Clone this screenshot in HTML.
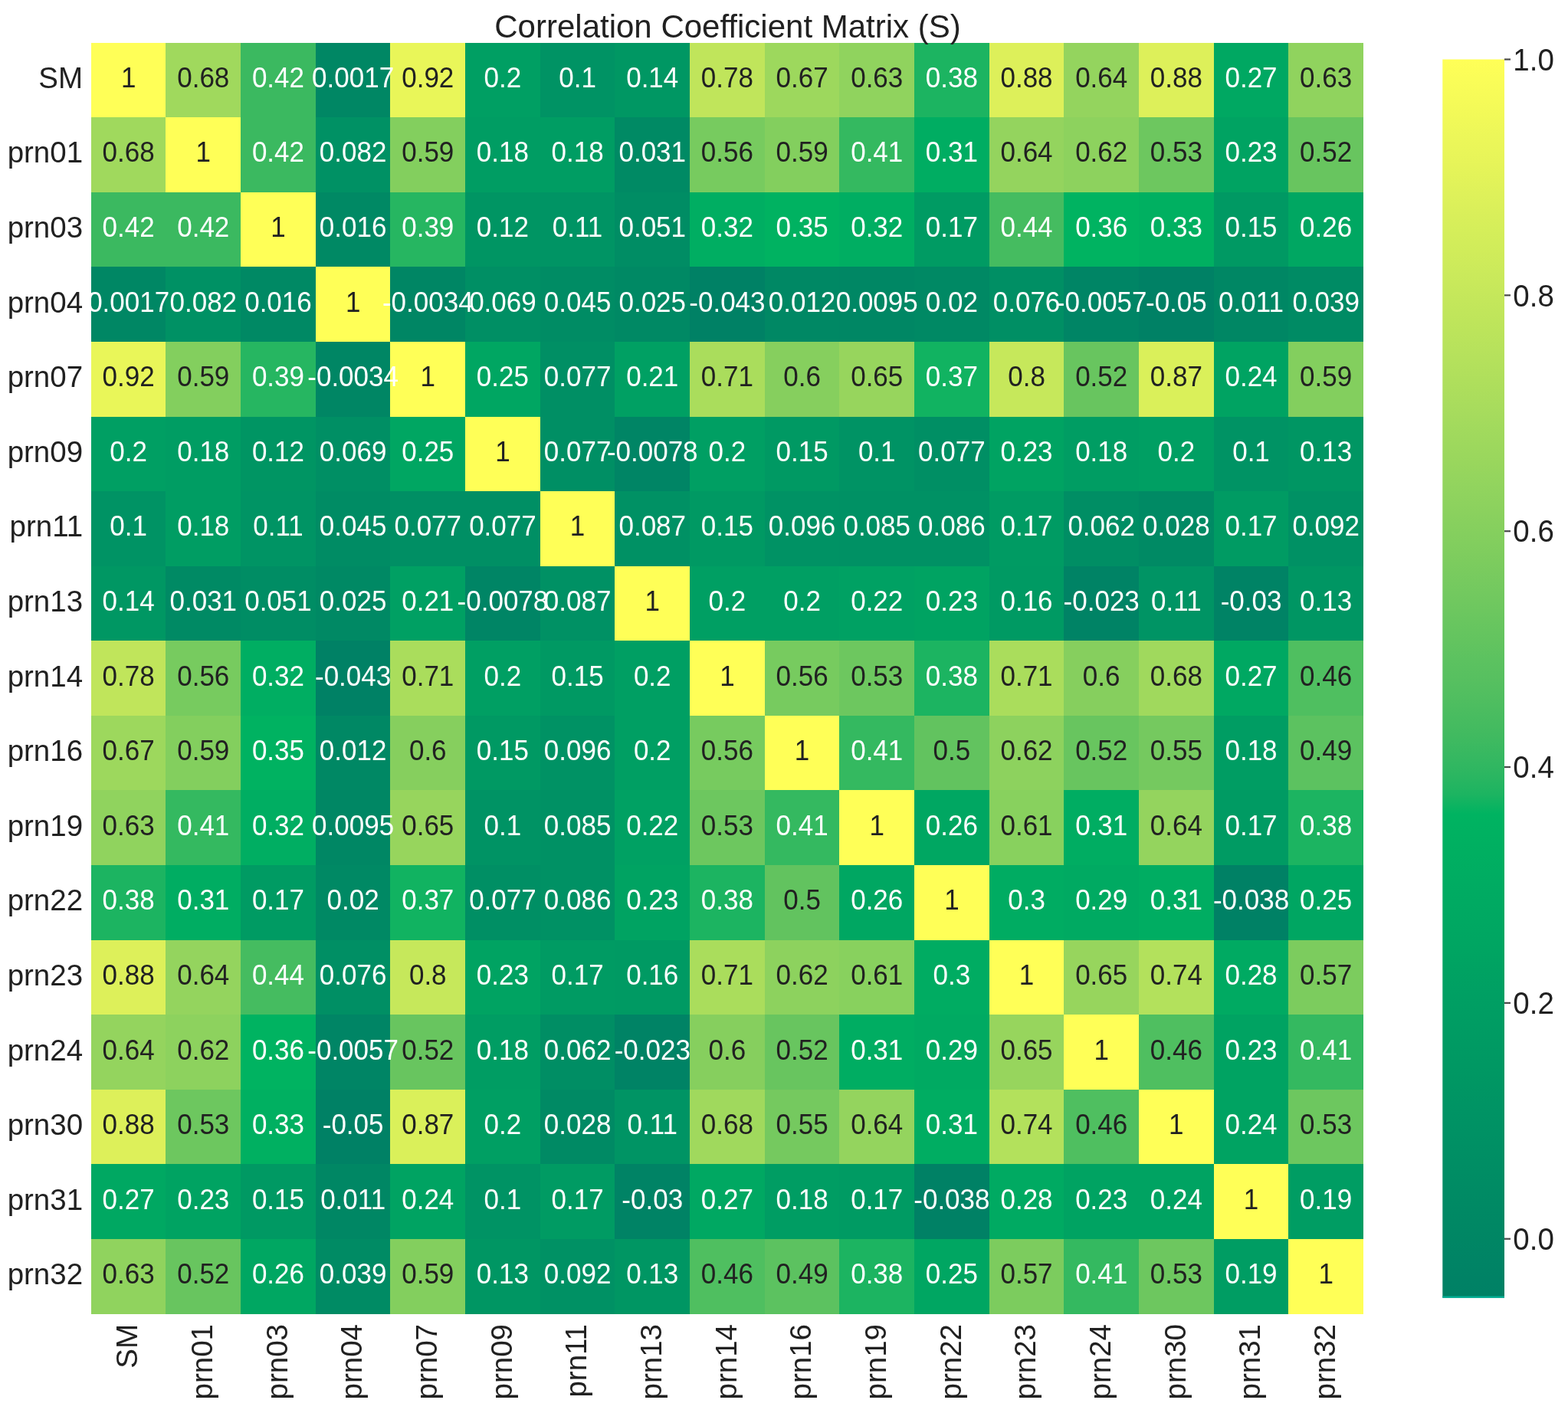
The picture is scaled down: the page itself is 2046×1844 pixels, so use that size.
<!DOCTYPE html>
<html lang="en">
<head>
<meta charset="utf-8">
<title>Correlation Coefficient Matrix (S)</title>
<style>
html,body{margin:0;padding:0;background:#fff;}
body{width:2046px;height:1844px;overflow:hidden;position:relative;}
svg{position:absolute;left:0;top:0;display:block;}
text{font-family:"Liberation Sans",sans-serif;}
.a{font-size:35px;text-anchor:middle;}
.w{fill:#ffffff;}
.d{fill:#212121;}
.t{font-size:38.5px;fill:#212121;}
.yt{text-anchor:end;}
.xt{text-anchor:end;}
.ttl{font-size:42px;fill:#212121;text-anchor:middle;}
.cells rect{shape-rendering:crispEdges;}
</style>
</head>
<body>
<svg width="2046" height="1844" viewBox="0 0 2046 1844">
<defs>
<clipPath id="axclip"><rect x="118.8" y="55.6" width="1660.2" height="1659"/></clipPath>
<linearGradient id="cbg" x1="0" y1="0" x2="0" y2="1"><stop offset="0.0000" stop-color="#ffff57"/><stop offset="0.0156" stop-color="#fafd58"/><stop offset="0.0312" stop-color="#f6fb58"/><stop offset="0.0469" stop-color="#f1f958"/><stop offset="0.0625" stop-color="#ecf759"/><stop offset="0.0781" stop-color="#e8f559"/><stop offset="0.0938" stop-color="#e3f359"/><stop offset="0.1094" stop-color="#def15a"/><stop offset="0.1250" stop-color="#d9ef5a"/><stop offset="0.1406" stop-color="#d4ee5a"/><stop offset="0.1562" stop-color="#d0ec5a"/><stop offset="0.1719" stop-color="#cbea5b"/><stop offset="0.1875" stop-color="#c6e85b"/><stop offset="0.2031" stop-color="#c1e65b"/><stop offset="0.2188" stop-color="#bce45b"/><stop offset="0.2344" stop-color="#b7e25c"/><stop offset="0.2500" stop-color="#b2e05c"/><stop offset="0.2656" stop-color="#adde5c"/><stop offset="0.2812" stop-color="#a8dc5d"/><stop offset="0.2969" stop-color="#a2da5d"/><stop offset="0.3125" stop-color="#9dd85d"/><stop offset="0.3281" stop-color="#98d65d"/><stop offset="0.3438" stop-color="#92d45e"/><stop offset="0.3594" stop-color="#8dd25e"/><stop offset="0.3750" stop-color="#87d05e"/><stop offset="0.3906" stop-color="#82ce5e"/><stop offset="0.4062" stop-color="#7ccc5e"/><stop offset="0.4219" stop-color="#76ca5f"/><stop offset="0.4375" stop-color="#70c85f"/><stop offset="0.4531" stop-color="#69c65f"/><stop offset="0.4688" stop-color="#63c45f"/><stop offset="0.4844" stop-color="#5cc260"/><stop offset="0.5000" stop-color="#57c060"/><stop offset="0.5156" stop-color="#50be60"/><stop offset="0.5312" stop-color="#48bc60"/><stop offset="0.5469" stop-color="#40ba60"/><stop offset="0.5625" stop-color="#36b861"/><stop offset="0.5781" stop-color="#2bb661"/><stop offset="0.5938" stop-color="#1cb461"/><stop offset="0.6094" stop-color="#00b361"/><stop offset="0.6250" stop-color="#00b161"/><stop offset="0.6406" stop-color="#00af61"/><stop offset="0.6562" stop-color="#00ad62"/><stop offset="0.6719" stop-color="#00ab62"/><stop offset="0.6875" stop-color="#00a962"/><stop offset="0.7031" stop-color="#00a762"/><stop offset="0.7188" stop-color="#00a562"/><stop offset="0.7344" stop-color="#00a262"/><stop offset="0.7500" stop-color="#00a063"/><stop offset="0.7656" stop-color="#009e63"/><stop offset="0.7812" stop-color="#009c63"/><stop offset="0.7969" stop-color="#009a63"/><stop offset="0.8125" stop-color="#009863"/><stop offset="0.8281" stop-color="#009663"/><stop offset="0.8438" stop-color="#009464"/><stop offset="0.8594" stop-color="#009264"/><stop offset="0.8750" stop-color="#009064"/><stop offset="0.8906" stop-color="#008e64"/><stop offset="0.9062" stop-color="#008c64"/><stop offset="0.9219" stop-color="#008a64"/><stop offset="0.9375" stop-color="#008864"/><stop offset="0.9531" stop-color="#008664"/><stop offset="0.9688" stop-color="#008465"/><stop offset="0.9844" stop-color="#008265"/><stop offset="1.0000" stop-color="#008165"/></linearGradient>
</defs>
<rect x="0" y="0" width="2046" height="1844" fill="#ffffff"/>
<g>
<g class="cells">
<rect x="118.80" y="55.60" width="97.96" height="97.89" fill="#ffff57"/>
<rect x="216.46" y="55.60" width="97.96" height="97.89" fill="#a0d95d"/>
<rect x="314.12" y="55.60" width="97.96" height="97.89" fill="#3bb960"/>
<rect x="411.78" y="55.60" width="97.96" height="97.89" fill="#008764"/>
<rect x="509.44" y="55.60" width="97.96" height="97.89" fill="#e9f659"/>
<rect x="607.09" y="55.60" width="97.96" height="97.89" fill="#009f63"/>
<rect x="704.75" y="55.60" width="97.96" height="97.89" fill="#009364"/>
<rect x="802.41" y="55.60" width="97.96" height="97.89" fill="#009763"/>
<rect x="900.07" y="55.60" width="97.96" height="97.89" fill="#c0e55b"/>
<rect x="997.73" y="55.60" width="97.96" height="97.89" fill="#9dd85d"/>
<rect x="1095.39" y="55.60" width="97.96" height="97.89" fill="#90d35e"/>
<rect x="1193.05" y="55.60" width="97.96" height="97.89" fill="#1cb461"/>
<rect x="1290.71" y="55.60" width="97.96" height="97.89" fill="#ddf05a"/>
<rect x="1388.36" y="55.60" width="97.96" height="97.89" fill="#94d45e"/>
<rect x="1486.02" y="55.60" width="97.96" height="97.89" fill="#ddf05a"/>
<rect x="1583.68" y="55.60" width="97.96" height="97.89" fill="#00a862"/>
<rect x="1681.34" y="55.60" width="97.66" height="97.89" fill="#90d35e"/>
<rect x="118.80" y="153.19" width="97.96" height="97.89" fill="#a0d95d"/>
<rect x="216.46" y="153.19" width="97.96" height="97.89" fill="#ffff57"/>
<rect x="314.12" y="153.19" width="97.96" height="97.89" fill="#3bb960"/>
<rect x="411.78" y="153.19" width="97.96" height="97.89" fill="#009164"/>
<rect x="509.44" y="153.19" width="97.96" height="97.89" fill="#83cf5e"/>
<rect x="607.09" y="153.19" width="97.96" height="97.89" fill="#009d63"/>
<rect x="704.75" y="153.19" width="97.96" height="97.89" fill="#009d63"/>
<rect x="802.41" y="153.19" width="97.96" height="97.89" fill="#008a64"/>
<rect x="900.07" y="153.19" width="97.96" height="97.89" fill="#77cb5f"/>
<rect x="997.73" y="153.19" width="97.96" height="97.89" fill="#83cf5e"/>
<rect x="1095.39" y="153.19" width="97.96" height="97.89" fill="#34b960"/>
<rect x="1193.05" y="153.19" width="97.96" height="97.89" fill="#00ad62"/>
<rect x="1290.71" y="153.19" width="97.96" height="97.89" fill="#94d45e"/>
<rect x="1388.36" y="153.19" width="97.96" height="97.89" fill="#8dd25e"/>
<rect x="1486.02" y="153.19" width="97.96" height="97.89" fill="#6dc75f"/>
<rect x="1583.68" y="153.19" width="97.96" height="97.89" fill="#00a362"/>
<rect x="1681.34" y="153.19" width="97.66" height="97.89" fill="#68c55f"/>
<rect x="118.80" y="250.78" width="97.96" height="97.89" fill="#3bb960"/>
<rect x="216.46" y="250.78" width="97.96" height="97.89" fill="#3bb960"/>
<rect x="314.12" y="250.78" width="97.96" height="97.89" fill="#ffff57"/>
<rect x="411.78" y="250.78" width="97.96" height="97.89" fill="#008964"/>
<rect x="509.44" y="250.78" width="97.96" height="97.89" fill="#26b661"/>
<rect x="607.09" y="250.78" width="97.96" height="97.89" fill="#009563"/>
<rect x="704.75" y="250.78" width="97.96" height="97.89" fill="#009464"/>
<rect x="802.41" y="250.78" width="97.96" height="97.89" fill="#008d64"/>
<rect x="900.07" y="250.78" width="97.96" height="97.89" fill="#00ae62"/>
<rect x="997.73" y="250.78" width="97.96" height="97.89" fill="#00b261"/>
<rect x="1095.39" y="250.78" width="97.96" height="97.89" fill="#00ae62"/>
<rect x="1193.05" y="250.78" width="97.96" height="97.89" fill="#009b63"/>
<rect x="1290.71" y="250.78" width="97.96" height="97.89" fill="#45bc60"/>
<rect x="1388.36" y="250.78" width="97.96" height="97.89" fill="#00b361"/>
<rect x="1486.02" y="250.78" width="97.96" height="97.89" fill="#00b061"/>
<rect x="1583.68" y="250.78" width="97.96" height="97.89" fill="#009963"/>
<rect x="1681.34" y="250.78" width="97.66" height="97.89" fill="#00a762"/>
<rect x="118.80" y="348.36" width="97.96" height="97.89" fill="#008764"/>
<rect x="216.46" y="348.36" width="97.96" height="97.89" fill="#009164"/>
<rect x="314.12" y="348.36" width="97.96" height="97.89" fill="#008964"/>
<rect x="411.78" y="348.36" width="97.96" height="97.89" fill="#ffff57"/>
<rect x="509.44" y="348.36" width="97.96" height="97.89" fill="#008664"/>
<rect x="607.09" y="348.36" width="97.96" height="97.89" fill="#008f64"/>
<rect x="704.75" y="348.36" width="97.96" height="97.89" fill="#008c64"/>
<rect x="802.41" y="348.36" width="97.96" height="97.89" fill="#008964"/>
<rect x="900.07" y="348.36" width="97.96" height="97.89" fill="#008165"/>
<rect x="997.73" y="348.36" width="97.96" height="97.89" fill="#008864"/>
<rect x="1095.39" y="348.36" width="97.96" height="97.89" fill="#008764"/>
<rect x="1193.05" y="348.36" width="97.96" height="97.89" fill="#008964"/>
<rect x="1290.71" y="348.36" width="97.96" height="97.89" fill="#008f64"/>
<rect x="1388.36" y="348.36" width="97.96" height="97.89" fill="#008565"/>
<rect x="1486.02" y="348.36" width="97.96" height="97.89" fill="#008165"/>
<rect x="1583.68" y="348.36" width="97.96" height="97.89" fill="#008764"/>
<rect x="1681.34" y="348.36" width="97.66" height="97.89" fill="#008b64"/>
<rect x="118.80" y="445.95" width="97.96" height="97.89" fill="#e9f659"/>
<rect x="216.46" y="445.95" width="97.96" height="97.89" fill="#83cf5e"/>
<rect x="314.12" y="445.95" width="97.96" height="97.89" fill="#26b661"/>
<rect x="411.78" y="445.95" width="97.96" height="97.89" fill="#008664"/>
<rect x="509.44" y="445.95" width="97.96" height="97.89" fill="#ffff57"/>
<rect x="607.09" y="445.95" width="97.96" height="97.89" fill="#00a662"/>
<rect x="704.75" y="445.95" width="97.96" height="97.89" fill="#008f64"/>
<rect x="802.41" y="445.95" width="97.96" height="97.89" fill="#00a063"/>
<rect x="900.07" y="445.95" width="97.96" height="97.89" fill="#aadd5c"/>
<rect x="997.73" y="445.95" width="97.96" height="97.89" fill="#86cf5e"/>
<rect x="1095.39" y="445.95" width="97.96" height="97.89" fill="#97d55d"/>
<rect x="1193.05" y="445.95" width="97.96" height="97.89" fill="#11b361"/>
<rect x="1290.71" y="445.95" width="97.96" height="97.89" fill="#c6e85b"/>
<rect x="1388.36" y="445.95" width="97.96" height="97.89" fill="#68c55f"/>
<rect x="1486.02" y="445.95" width="97.96" height="97.89" fill="#daf05a"/>
<rect x="1583.68" y="445.95" width="97.96" height="97.89" fill="#00a362"/>
<rect x="1681.34" y="445.95" width="97.66" height="97.89" fill="#83cf5e"/>
<rect x="118.80" y="543.54" width="97.96" height="97.89" fill="#009f63"/>
<rect x="216.46" y="543.54" width="97.96" height="97.89" fill="#009d63"/>
<rect x="314.12" y="543.54" width="97.96" height="97.89" fill="#009563"/>
<rect x="411.78" y="543.54" width="97.96" height="97.89" fill="#008f64"/>
<rect x="509.44" y="543.54" width="97.96" height="97.89" fill="#00a662"/>
<rect x="607.09" y="543.54" width="97.96" height="97.89" fill="#ffff57"/>
<rect x="704.75" y="543.54" width="97.96" height="97.89" fill="#008f64"/>
<rect x="802.41" y="543.54" width="97.96" height="97.89" fill="#008565"/>
<rect x="900.07" y="543.54" width="97.96" height="97.89" fill="#009f63"/>
<rect x="997.73" y="543.54" width="97.96" height="97.89" fill="#009963"/>
<rect x="1095.39" y="543.54" width="97.96" height="97.89" fill="#009364"/>
<rect x="1193.05" y="543.54" width="97.96" height="97.89" fill="#008f64"/>
<rect x="1290.71" y="543.54" width="97.96" height="97.89" fill="#00a362"/>
<rect x="1388.36" y="543.54" width="97.96" height="97.89" fill="#009d63"/>
<rect x="1486.02" y="543.54" width="97.96" height="97.89" fill="#009f63"/>
<rect x="1583.68" y="543.54" width="97.96" height="97.89" fill="#009364"/>
<rect x="1681.34" y="543.54" width="97.66" height="97.89" fill="#009663"/>
<rect x="118.80" y="641.13" width="97.96" height="97.89" fill="#009364"/>
<rect x="216.46" y="641.13" width="97.96" height="97.89" fill="#009d63"/>
<rect x="314.12" y="641.13" width="97.96" height="97.89" fill="#009464"/>
<rect x="411.78" y="641.13" width="97.96" height="97.89" fill="#008c64"/>
<rect x="509.44" y="641.13" width="97.96" height="97.89" fill="#008f64"/>
<rect x="607.09" y="641.13" width="97.96" height="97.89" fill="#008f64"/>
<rect x="704.75" y="641.13" width="97.96" height="97.89" fill="#ffff57"/>
<rect x="802.41" y="641.13" width="97.96" height="97.89" fill="#009164"/>
<rect x="900.07" y="641.13" width="97.96" height="97.89" fill="#009963"/>
<rect x="997.73" y="641.13" width="97.96" height="97.89" fill="#009264"/>
<rect x="1095.39" y="641.13" width="97.96" height="97.89" fill="#009164"/>
<rect x="1193.05" y="641.13" width="97.96" height="97.89" fill="#009164"/>
<rect x="1290.71" y="641.13" width="97.96" height="97.89" fill="#009b63"/>
<rect x="1388.36" y="641.13" width="97.96" height="97.89" fill="#008e64"/>
<rect x="1486.02" y="641.13" width="97.96" height="97.89" fill="#008a64"/>
<rect x="1583.68" y="641.13" width="97.96" height="97.89" fill="#009b63"/>
<rect x="1681.34" y="641.13" width="97.66" height="97.89" fill="#009164"/>
<rect x="118.80" y="738.72" width="97.96" height="97.89" fill="#009763"/>
<rect x="216.46" y="738.72" width="97.96" height="97.89" fill="#008a64"/>
<rect x="314.12" y="738.72" width="97.96" height="97.89" fill="#008d64"/>
<rect x="411.78" y="738.72" width="97.96" height="97.89" fill="#008964"/>
<rect x="509.44" y="738.72" width="97.96" height="97.89" fill="#00a063"/>
<rect x="607.09" y="738.72" width="97.96" height="97.89" fill="#008565"/>
<rect x="704.75" y="738.72" width="97.96" height="97.89" fill="#009164"/>
<rect x="802.41" y="738.72" width="97.96" height="97.89" fill="#ffff57"/>
<rect x="900.07" y="738.72" width="97.96" height="97.89" fill="#009f63"/>
<rect x="997.73" y="738.72" width="97.96" height="97.89" fill="#009f63"/>
<rect x="1095.39" y="738.72" width="97.96" height="97.89" fill="#00a163"/>
<rect x="1193.05" y="738.72" width="97.96" height="97.89" fill="#00a362"/>
<rect x="1290.71" y="738.72" width="97.96" height="97.89" fill="#009a63"/>
<rect x="1388.36" y="738.72" width="97.96" height="97.89" fill="#008365"/>
<rect x="1486.02" y="738.72" width="97.96" height="97.89" fill="#009464"/>
<rect x="1583.68" y="738.72" width="97.96" height="97.89" fill="#008365"/>
<rect x="1681.34" y="738.72" width="97.66" height="97.89" fill="#009663"/>
<rect x="118.80" y="836.31" width="97.96" height="97.89" fill="#c0e55b"/>
<rect x="216.46" y="836.31" width="97.96" height="97.89" fill="#77cb5f"/>
<rect x="314.12" y="836.31" width="97.96" height="97.89" fill="#00ae62"/>
<rect x="411.78" y="836.31" width="97.96" height="97.89" fill="#008165"/>
<rect x="509.44" y="836.31" width="97.96" height="97.89" fill="#aadd5c"/>
<rect x="607.09" y="836.31" width="97.96" height="97.89" fill="#009f63"/>
<rect x="704.75" y="836.31" width="97.96" height="97.89" fill="#009963"/>
<rect x="802.41" y="836.31" width="97.96" height="97.89" fill="#009f63"/>
<rect x="900.07" y="836.31" width="97.96" height="97.89" fill="#ffff57"/>
<rect x="997.73" y="836.31" width="97.96" height="97.89" fill="#77cb5f"/>
<rect x="1095.39" y="836.31" width="97.96" height="97.89" fill="#6dc75f"/>
<rect x="1193.05" y="836.31" width="97.96" height="97.89" fill="#1cb461"/>
<rect x="1290.71" y="836.31" width="97.96" height="97.89" fill="#aadd5c"/>
<rect x="1388.36" y="836.31" width="97.96" height="97.89" fill="#86cf5e"/>
<rect x="1486.02" y="836.31" width="97.96" height="97.89" fill="#a0d95d"/>
<rect x="1583.68" y="836.31" width="97.96" height="97.89" fill="#00a862"/>
<rect x="1681.34" y="836.31" width="97.66" height="97.89" fill="#4fbf60"/>
<rect x="118.80" y="933.89" width="97.96" height="97.89" fill="#9dd85d"/>
<rect x="216.46" y="933.89" width="97.96" height="97.89" fill="#83cf5e"/>
<rect x="314.12" y="933.89" width="97.96" height="97.89" fill="#00b261"/>
<rect x="411.78" y="933.89" width="97.96" height="97.89" fill="#008864"/>
<rect x="509.44" y="933.89" width="97.96" height="97.89" fill="#86cf5e"/>
<rect x="607.09" y="933.89" width="97.96" height="97.89" fill="#009963"/>
<rect x="704.75" y="933.89" width="97.96" height="97.89" fill="#009264"/>
<rect x="802.41" y="933.89" width="97.96" height="97.89" fill="#009f63"/>
<rect x="900.07" y="933.89" width="97.96" height="97.89" fill="#77cb5f"/>
<rect x="997.73" y="933.89" width="97.96" height="97.89" fill="#ffff57"/>
<rect x="1095.39" y="933.89" width="97.96" height="97.89" fill="#34b960"/>
<rect x="1193.05" y="933.89" width="97.96" height="97.89" fill="#62c35f"/>
<rect x="1290.71" y="933.89" width="97.96" height="97.89" fill="#8dd25e"/>
<rect x="1388.36" y="933.89" width="97.96" height="97.89" fill="#68c55f"/>
<rect x="1486.02" y="933.89" width="97.96" height="97.89" fill="#75c95f"/>
<rect x="1583.68" y="933.89" width="97.96" height="97.89" fill="#009d63"/>
<rect x="1681.34" y="933.89" width="97.66" height="97.89" fill="#5cc260"/>
<rect x="118.80" y="1031.48" width="97.96" height="97.89" fill="#90d35e"/>
<rect x="216.46" y="1031.48" width="97.96" height="97.89" fill="#34b960"/>
<rect x="314.12" y="1031.48" width="97.96" height="97.89" fill="#00ae62"/>
<rect x="411.78" y="1031.48" width="97.96" height="97.89" fill="#008764"/>
<rect x="509.44" y="1031.48" width="97.96" height="97.89" fill="#97d55d"/>
<rect x="607.09" y="1031.48" width="97.96" height="97.89" fill="#009364"/>
<rect x="704.75" y="1031.48" width="97.96" height="97.89" fill="#009164"/>
<rect x="802.41" y="1031.48" width="97.96" height="97.89" fill="#00a163"/>
<rect x="900.07" y="1031.48" width="97.96" height="97.89" fill="#6dc75f"/>
<rect x="997.73" y="1031.48" width="97.96" height="97.89" fill="#34b960"/>
<rect x="1095.39" y="1031.48" width="97.96" height="97.89" fill="#ffff57"/>
<rect x="1193.05" y="1031.48" width="97.96" height="97.89" fill="#00a762"/>
<rect x="1290.71" y="1031.48" width="97.96" height="97.89" fill="#88d15e"/>
<rect x="1388.36" y="1031.48" width="97.96" height="97.89" fill="#00ad62"/>
<rect x="1486.02" y="1031.48" width="97.96" height="97.89" fill="#94d45e"/>
<rect x="1583.68" y="1031.48" width="97.96" height="97.89" fill="#009b63"/>
<rect x="1681.34" y="1031.48" width="97.66" height="97.89" fill="#1cb461"/>
<rect x="118.80" y="1129.07" width="97.96" height="97.89" fill="#1cb461"/>
<rect x="216.46" y="1129.07" width="97.96" height="97.89" fill="#00ad62"/>
<rect x="314.12" y="1129.07" width="97.96" height="97.89" fill="#009b63"/>
<rect x="411.78" y="1129.07" width="97.96" height="97.89" fill="#008964"/>
<rect x="509.44" y="1129.07" width="97.96" height="97.89" fill="#11b361"/>
<rect x="607.09" y="1129.07" width="97.96" height="97.89" fill="#008f64"/>
<rect x="704.75" y="1129.07" width="97.96" height="97.89" fill="#009164"/>
<rect x="802.41" y="1129.07" width="97.96" height="97.89" fill="#00a362"/>
<rect x="900.07" y="1129.07" width="97.96" height="97.89" fill="#1cb461"/>
<rect x="997.73" y="1129.07" width="97.96" height="97.89" fill="#62c35f"/>
<rect x="1095.39" y="1129.07" width="97.96" height="97.89" fill="#00a762"/>
<rect x="1193.05" y="1129.07" width="97.96" height="97.89" fill="#ffff57"/>
<rect x="1290.71" y="1129.07" width="97.96" height="97.89" fill="#00ac62"/>
<rect x="1388.36" y="1129.07" width="97.96" height="97.89" fill="#00aa62"/>
<rect x="1486.02" y="1129.07" width="97.96" height="97.89" fill="#00ad62"/>
<rect x="1583.68" y="1129.07" width="97.96" height="97.89" fill="#008165"/>
<rect x="1681.34" y="1129.07" width="97.66" height="97.89" fill="#00a662"/>
<rect x="118.80" y="1226.66" width="97.96" height="97.89" fill="#ddf05a"/>
<rect x="216.46" y="1226.66" width="97.96" height="97.89" fill="#94d45e"/>
<rect x="314.12" y="1226.66" width="97.96" height="97.89" fill="#45bc60"/>
<rect x="411.78" y="1226.66" width="97.96" height="97.89" fill="#008f64"/>
<rect x="509.44" y="1226.66" width="97.96" height="97.89" fill="#c6e85b"/>
<rect x="607.09" y="1226.66" width="97.96" height="97.89" fill="#00a362"/>
<rect x="704.75" y="1226.66" width="97.96" height="97.89" fill="#009b63"/>
<rect x="802.41" y="1226.66" width="97.96" height="97.89" fill="#009a63"/>
<rect x="900.07" y="1226.66" width="97.96" height="97.89" fill="#aadd5c"/>
<rect x="997.73" y="1226.66" width="97.96" height="97.89" fill="#8dd25e"/>
<rect x="1095.39" y="1226.66" width="97.96" height="97.89" fill="#88d15e"/>
<rect x="1193.05" y="1226.66" width="97.96" height="97.89" fill="#00ac62"/>
<rect x="1290.71" y="1226.66" width="97.96" height="97.89" fill="#ffff57"/>
<rect x="1388.36" y="1226.66" width="97.96" height="97.89" fill="#97d55d"/>
<rect x="1486.02" y="1226.66" width="97.96" height="97.89" fill="#b3e15c"/>
<rect x="1583.68" y="1226.66" width="97.96" height="97.89" fill="#00aa62"/>
<rect x="1681.34" y="1226.66" width="97.66" height="97.89" fill="#7ccc5e"/>
<rect x="118.80" y="1324.25" width="97.96" height="97.89" fill="#94d45e"/>
<rect x="216.46" y="1324.25" width="97.96" height="97.89" fill="#8dd25e"/>
<rect x="314.12" y="1324.25" width="97.96" height="97.89" fill="#00b361"/>
<rect x="411.78" y="1324.25" width="97.96" height="97.89" fill="#008565"/>
<rect x="509.44" y="1324.25" width="97.96" height="97.89" fill="#68c55f"/>
<rect x="607.09" y="1324.25" width="97.96" height="97.89" fill="#009d63"/>
<rect x="704.75" y="1324.25" width="97.96" height="97.89" fill="#008e64"/>
<rect x="802.41" y="1324.25" width="97.96" height="97.89" fill="#008365"/>
<rect x="900.07" y="1324.25" width="97.96" height="97.89" fill="#86cf5e"/>
<rect x="997.73" y="1324.25" width="97.96" height="97.89" fill="#68c55f"/>
<rect x="1095.39" y="1324.25" width="97.96" height="97.89" fill="#00ad62"/>
<rect x="1193.05" y="1324.25" width="97.96" height="97.89" fill="#00aa62"/>
<rect x="1290.71" y="1324.25" width="97.96" height="97.89" fill="#97d55d"/>
<rect x="1388.36" y="1324.25" width="97.96" height="97.89" fill="#ffff57"/>
<rect x="1486.02" y="1324.25" width="97.96" height="97.89" fill="#4fbf60"/>
<rect x="1583.68" y="1324.25" width="97.96" height="97.89" fill="#00a362"/>
<rect x="1681.34" y="1324.25" width="97.66" height="97.89" fill="#34b960"/>
<rect x="118.80" y="1421.84" width="97.96" height="97.89" fill="#ddf05a"/>
<rect x="216.46" y="1421.84" width="97.96" height="97.89" fill="#6dc75f"/>
<rect x="314.12" y="1421.84" width="97.96" height="97.89" fill="#00b061"/>
<rect x="411.78" y="1421.84" width="97.96" height="97.89" fill="#008165"/>
<rect x="509.44" y="1421.84" width="97.96" height="97.89" fill="#daf05a"/>
<rect x="607.09" y="1421.84" width="97.96" height="97.89" fill="#009f63"/>
<rect x="704.75" y="1421.84" width="97.96" height="97.89" fill="#008a64"/>
<rect x="802.41" y="1421.84" width="97.96" height="97.89" fill="#009464"/>
<rect x="900.07" y="1421.84" width="97.96" height="97.89" fill="#a0d95d"/>
<rect x="997.73" y="1421.84" width="97.96" height="97.89" fill="#75c95f"/>
<rect x="1095.39" y="1421.84" width="97.96" height="97.89" fill="#94d45e"/>
<rect x="1193.05" y="1421.84" width="97.96" height="97.89" fill="#00ad62"/>
<rect x="1290.71" y="1421.84" width="97.96" height="97.89" fill="#b3e15c"/>
<rect x="1388.36" y="1421.84" width="97.96" height="97.89" fill="#4fbf60"/>
<rect x="1486.02" y="1421.84" width="97.96" height="97.89" fill="#ffff57"/>
<rect x="1583.68" y="1421.84" width="97.96" height="97.89" fill="#00a362"/>
<rect x="1681.34" y="1421.84" width="97.66" height="97.89" fill="#6dc75f"/>
<rect x="118.80" y="1519.42" width="97.96" height="97.89" fill="#00a862"/>
<rect x="216.46" y="1519.42" width="97.96" height="97.89" fill="#00a362"/>
<rect x="314.12" y="1519.42" width="97.96" height="97.89" fill="#009963"/>
<rect x="411.78" y="1519.42" width="97.96" height="97.89" fill="#008764"/>
<rect x="509.44" y="1519.42" width="97.96" height="97.89" fill="#00a362"/>
<rect x="607.09" y="1519.42" width="97.96" height="97.89" fill="#009364"/>
<rect x="704.75" y="1519.42" width="97.96" height="97.89" fill="#009b63"/>
<rect x="802.41" y="1519.42" width="97.96" height="97.89" fill="#008365"/>
<rect x="900.07" y="1519.42" width="97.96" height="97.89" fill="#00a862"/>
<rect x="997.73" y="1519.42" width="97.96" height="97.89" fill="#009d63"/>
<rect x="1095.39" y="1519.42" width="97.96" height="97.89" fill="#009b63"/>
<rect x="1193.05" y="1519.42" width="97.96" height="97.89" fill="#008165"/>
<rect x="1290.71" y="1519.42" width="97.96" height="97.89" fill="#00aa62"/>
<rect x="1388.36" y="1519.42" width="97.96" height="97.89" fill="#00a362"/>
<rect x="1486.02" y="1519.42" width="97.96" height="97.89" fill="#00a362"/>
<rect x="1583.68" y="1519.42" width="97.96" height="97.89" fill="#ffff57"/>
<rect x="1681.34" y="1519.42" width="97.66" height="97.89" fill="#009d63"/>
<rect x="118.80" y="1617.01" width="97.96" height="97.59" fill="#90d35e"/>
<rect x="216.46" y="1617.01" width="97.96" height="97.59" fill="#68c55f"/>
<rect x="314.12" y="1617.01" width="97.96" height="97.59" fill="#00a762"/>
<rect x="411.78" y="1617.01" width="97.96" height="97.59" fill="#008b64"/>
<rect x="509.44" y="1617.01" width="97.96" height="97.59" fill="#83cf5e"/>
<rect x="607.09" y="1617.01" width="97.96" height="97.59" fill="#009663"/>
<rect x="704.75" y="1617.01" width="97.96" height="97.59" fill="#009164"/>
<rect x="802.41" y="1617.01" width="97.96" height="97.59" fill="#009663"/>
<rect x="900.07" y="1617.01" width="97.96" height="97.59" fill="#4fbf60"/>
<rect x="997.73" y="1617.01" width="97.96" height="97.59" fill="#5cc260"/>
<rect x="1095.39" y="1617.01" width="97.96" height="97.59" fill="#1cb461"/>
<rect x="1193.05" y="1617.01" width="97.96" height="97.59" fill="#00a662"/>
<rect x="1290.71" y="1617.01" width="97.96" height="97.59" fill="#7ccc5e"/>
<rect x="1388.36" y="1617.01" width="97.96" height="97.59" fill="#34b960"/>
<rect x="1486.02" y="1617.01" width="97.96" height="97.59" fill="#6dc75f"/>
<rect x="1583.68" y="1617.01" width="97.96" height="97.59" fill="#009d63"/>
<rect x="1681.34" y="1617.01" width="97.66" height="97.59" fill="#ffff57"/>
</g>
<g clip-path="url(#axclip)">
<text class="a d" transform="translate(167.63,113.89) scale(1,1.04)">1</text>
<text class="a d" transform="translate(265.29,113.89) scale(1,1.04)">0.68</text>
<text class="a w" transform="translate(362.95,113.89) scale(1,1.04)">0.42</text>
<text class="a w" transform="translate(460.61,113.89) scale(1,1.04)">0.0017</text>
<text class="a d" transform="translate(558.26,113.89) scale(1,1.04)">0.92</text>
<text class="a w" transform="translate(655.92,113.89) scale(1,1.04)">0.2</text>
<text class="a w" transform="translate(753.58,113.89) scale(1,1.04)">0.1</text>
<text class="a w" transform="translate(851.24,113.89) scale(1,1.04)">0.14</text>
<text class="a d" transform="translate(948.90,113.89) scale(1,1.04)">0.78</text>
<text class="a d" transform="translate(1046.56,113.89) scale(1,1.04)">0.67</text>
<text class="a d" transform="translate(1144.22,113.89) scale(1,1.04)">0.63</text>
<text class="a w" transform="translate(1241.88,113.89) scale(1,1.04)">0.38</text>
<text class="a d" transform="translate(1339.54,113.89) scale(1,1.04)">0.88</text>
<text class="a d" transform="translate(1437.19,113.89) scale(1,1.04)">0.64</text>
<text class="a d" transform="translate(1534.85,113.89) scale(1,1.04)">0.88</text>
<text class="a w" transform="translate(1632.51,113.89) scale(1,1.04)">0.27</text>
<text class="a d" transform="translate(1730.17,113.89) scale(1,1.04)">0.63</text>
<text class="a d" transform="translate(167.63,211.48) scale(1,1.04)">0.68</text>
<text class="a d" transform="translate(265.29,211.48) scale(1,1.04)">1</text>
<text class="a w" transform="translate(362.95,211.48) scale(1,1.04)">0.42</text>
<text class="a w" transform="translate(460.61,211.48) scale(1,1.04)">0.082</text>
<text class="a d" transform="translate(558.26,211.48) scale(1,1.04)">0.59</text>
<text class="a w" transform="translate(655.92,211.48) scale(1,1.04)">0.18</text>
<text class="a w" transform="translate(753.58,211.48) scale(1,1.04)">0.18</text>
<text class="a w" transform="translate(851.24,211.48) scale(1,1.04)">0.031</text>
<text class="a d" transform="translate(948.90,211.48) scale(1,1.04)">0.56</text>
<text class="a d" transform="translate(1046.56,211.48) scale(1,1.04)">0.59</text>
<text class="a w" transform="translate(1144.22,211.48) scale(1,1.04)">0.41</text>
<text class="a w" transform="translate(1241.88,211.48) scale(1,1.04)">0.31</text>
<text class="a d" transform="translate(1339.54,211.48) scale(1,1.04)">0.64</text>
<text class="a d" transform="translate(1437.19,211.48) scale(1,1.04)">0.62</text>
<text class="a d" transform="translate(1534.85,211.48) scale(1,1.04)">0.53</text>
<text class="a w" transform="translate(1632.51,211.48) scale(1,1.04)">0.23</text>
<text class="a d" transform="translate(1730.17,211.48) scale(1,1.04)">0.52</text>
<text class="a w" transform="translate(167.63,309.07) scale(1,1.04)">0.42</text>
<text class="a w" transform="translate(265.29,309.07) scale(1,1.04)">0.42</text>
<text class="a d" transform="translate(362.95,309.07) scale(1,1.04)">1</text>
<text class="a w" transform="translate(460.61,309.07) scale(1,1.04)">0.016</text>
<text class="a w" transform="translate(558.26,309.07) scale(1,1.04)">0.39</text>
<text class="a w" transform="translate(655.92,309.07) scale(1,1.04)">0.12</text>
<text class="a w" transform="translate(753.58,309.07) scale(1,1.04)">0.11</text>
<text class="a w" transform="translate(851.24,309.07) scale(1,1.04)">0.051</text>
<text class="a w" transform="translate(948.90,309.07) scale(1,1.04)">0.32</text>
<text class="a w" transform="translate(1046.56,309.07) scale(1,1.04)">0.35</text>
<text class="a w" transform="translate(1144.22,309.07) scale(1,1.04)">0.32</text>
<text class="a w" transform="translate(1241.88,309.07) scale(1,1.04)">0.17</text>
<text class="a w" transform="translate(1339.54,309.07) scale(1,1.04)">0.44</text>
<text class="a w" transform="translate(1437.19,309.07) scale(1,1.04)">0.36</text>
<text class="a w" transform="translate(1534.85,309.07) scale(1,1.04)">0.33</text>
<text class="a w" transform="translate(1632.51,309.07) scale(1,1.04)">0.15</text>
<text class="a w" transform="translate(1730.17,309.07) scale(1,1.04)">0.26</text>
<text class="a w" transform="translate(167.63,406.66) scale(1,1.04)">0.0017</text>
<text class="a w" transform="translate(265.29,406.66) scale(1,1.04)">0.082</text>
<text class="a w" transform="translate(362.95,406.66) scale(1,1.04)">0.016</text>
<text class="a d" transform="translate(460.61,406.66) scale(1,1.04)">1</text>
<text class="a w" transform="translate(558.26,406.66) scale(1,1.04)">-0.0034</text>
<text class="a w" transform="translate(655.92,406.66) scale(1,1.04)">0.069</text>
<text class="a w" transform="translate(753.58,406.66) scale(1,1.04)">0.045</text>
<text class="a w" transform="translate(851.24,406.66) scale(1,1.04)">0.025</text>
<text class="a w" transform="translate(948.90,406.66) scale(1,1.04)">-0.043</text>
<text class="a w" transform="translate(1046.56,406.66) scale(1,1.04)">0.012</text>
<text class="a w" transform="translate(1144.22,406.66) scale(1,1.04)">0.0095</text>
<text class="a w" transform="translate(1241.88,406.66) scale(1,1.04)">0.02</text>
<text class="a w" transform="translate(1339.54,406.66) scale(1,1.04)">0.076</text>
<text class="a w" transform="translate(1437.19,406.66) scale(1,1.04)">-0.0057</text>
<text class="a w" transform="translate(1534.85,406.66) scale(1,1.04)">-0.05</text>
<text class="a w" transform="translate(1632.51,406.66) scale(1,1.04)">0.011</text>
<text class="a w" transform="translate(1730.17,406.66) scale(1,1.04)">0.039</text>
<text class="a d" transform="translate(167.63,504.25) scale(1,1.04)">0.92</text>
<text class="a d" transform="translate(265.29,504.25) scale(1,1.04)">0.59</text>
<text class="a w" transform="translate(362.95,504.25) scale(1,1.04)">0.39</text>
<text class="a w" transform="translate(460.61,504.25) scale(1,1.04)">-0.0034</text>
<text class="a d" transform="translate(558.26,504.25) scale(1,1.04)">1</text>
<text class="a w" transform="translate(655.92,504.25) scale(1,1.04)">0.25</text>
<text class="a w" transform="translate(753.58,504.25) scale(1,1.04)">0.077</text>
<text class="a w" transform="translate(851.24,504.25) scale(1,1.04)">0.21</text>
<text class="a d" transform="translate(948.90,504.25) scale(1,1.04)">0.71</text>
<text class="a d" transform="translate(1046.56,504.25) scale(1,1.04)">0.6</text>
<text class="a d" transform="translate(1144.22,504.25) scale(1,1.04)">0.65</text>
<text class="a w" transform="translate(1241.88,504.25) scale(1,1.04)">0.37</text>
<text class="a d" transform="translate(1339.54,504.25) scale(1,1.04)">0.8</text>
<text class="a d" transform="translate(1437.19,504.25) scale(1,1.04)">0.52</text>
<text class="a d" transform="translate(1534.85,504.25) scale(1,1.04)">0.87</text>
<text class="a w" transform="translate(1632.51,504.25) scale(1,1.04)">0.24</text>
<text class="a d" transform="translate(1730.17,504.25) scale(1,1.04)">0.59</text>
<text class="a w" transform="translate(167.63,601.84) scale(1,1.04)">0.2</text>
<text class="a w" transform="translate(265.29,601.84) scale(1,1.04)">0.18</text>
<text class="a w" transform="translate(362.95,601.84) scale(1,1.04)">0.12</text>
<text class="a w" transform="translate(460.61,601.84) scale(1,1.04)">0.069</text>
<text class="a w" transform="translate(558.26,601.84) scale(1,1.04)">0.25</text>
<text class="a d" transform="translate(655.92,601.84) scale(1,1.04)">1</text>
<text class="a w" transform="translate(753.58,601.84) scale(1,1.04)">0.077</text>
<text class="a w" transform="translate(851.24,601.84) scale(1,1.04)">-0.0078</text>
<text class="a w" transform="translate(948.90,601.84) scale(1,1.04)">0.2</text>
<text class="a w" transform="translate(1046.56,601.84) scale(1,1.04)">0.15</text>
<text class="a w" transform="translate(1144.22,601.84) scale(1,1.04)">0.1</text>
<text class="a w" transform="translate(1241.88,601.84) scale(1,1.04)">0.077</text>
<text class="a w" transform="translate(1339.54,601.84) scale(1,1.04)">0.23</text>
<text class="a w" transform="translate(1437.19,601.84) scale(1,1.04)">0.18</text>
<text class="a w" transform="translate(1534.85,601.84) scale(1,1.04)">0.2</text>
<text class="a w" transform="translate(1632.51,601.84) scale(1,1.04)">0.1</text>
<text class="a w" transform="translate(1730.17,601.84) scale(1,1.04)">0.13</text>
<text class="a w" transform="translate(167.63,699.42) scale(1,1.04)">0.1</text>
<text class="a w" transform="translate(265.29,699.42) scale(1,1.04)">0.18</text>
<text class="a w" transform="translate(362.95,699.42) scale(1,1.04)">0.11</text>
<text class="a w" transform="translate(460.61,699.42) scale(1,1.04)">0.045</text>
<text class="a w" transform="translate(558.26,699.42) scale(1,1.04)">0.077</text>
<text class="a w" transform="translate(655.92,699.42) scale(1,1.04)">0.077</text>
<text class="a d" transform="translate(753.58,699.42) scale(1,1.04)">1</text>
<text class="a w" transform="translate(851.24,699.42) scale(1,1.04)">0.087</text>
<text class="a w" transform="translate(948.90,699.42) scale(1,1.04)">0.15</text>
<text class="a w" transform="translate(1046.56,699.42) scale(1,1.04)">0.096</text>
<text class="a w" transform="translate(1144.22,699.42) scale(1,1.04)">0.085</text>
<text class="a w" transform="translate(1241.88,699.42) scale(1,1.04)">0.086</text>
<text class="a w" transform="translate(1339.54,699.42) scale(1,1.04)">0.17</text>
<text class="a w" transform="translate(1437.19,699.42) scale(1,1.04)">0.062</text>
<text class="a w" transform="translate(1534.85,699.42) scale(1,1.04)">0.028</text>
<text class="a w" transform="translate(1632.51,699.42) scale(1,1.04)">0.17</text>
<text class="a w" transform="translate(1730.17,699.42) scale(1,1.04)">0.092</text>
<text class="a w" transform="translate(167.63,797.01) scale(1,1.04)">0.14</text>
<text class="a w" transform="translate(265.29,797.01) scale(1,1.04)">0.031</text>
<text class="a w" transform="translate(362.95,797.01) scale(1,1.04)">0.051</text>
<text class="a w" transform="translate(460.61,797.01) scale(1,1.04)">0.025</text>
<text class="a w" transform="translate(558.26,797.01) scale(1,1.04)">0.21</text>
<text class="a w" transform="translate(655.92,797.01) scale(1,1.04)">-0.0078</text>
<text class="a w" transform="translate(753.58,797.01) scale(1,1.04)">0.087</text>
<text class="a d" transform="translate(851.24,797.01) scale(1,1.04)">1</text>
<text class="a w" transform="translate(948.90,797.01) scale(1,1.04)">0.2</text>
<text class="a w" transform="translate(1046.56,797.01) scale(1,1.04)">0.2</text>
<text class="a w" transform="translate(1144.22,797.01) scale(1,1.04)">0.22</text>
<text class="a w" transform="translate(1241.88,797.01) scale(1,1.04)">0.23</text>
<text class="a w" transform="translate(1339.54,797.01) scale(1,1.04)">0.16</text>
<text class="a w" transform="translate(1437.19,797.01) scale(1,1.04)">-0.023</text>
<text class="a w" transform="translate(1534.85,797.01) scale(1,1.04)">0.11</text>
<text class="a w" transform="translate(1632.51,797.01) scale(1,1.04)">-0.03</text>
<text class="a w" transform="translate(1730.17,797.01) scale(1,1.04)">0.13</text>
<text class="a d" transform="translate(167.63,894.60) scale(1,1.04)">0.78</text>
<text class="a d" transform="translate(265.29,894.60) scale(1,1.04)">0.56</text>
<text class="a w" transform="translate(362.95,894.60) scale(1,1.04)">0.32</text>
<text class="a w" transform="translate(460.61,894.60) scale(1,1.04)">-0.043</text>
<text class="a d" transform="translate(558.26,894.60) scale(1,1.04)">0.71</text>
<text class="a w" transform="translate(655.92,894.60) scale(1,1.04)">0.2</text>
<text class="a w" transform="translate(753.58,894.60) scale(1,1.04)">0.15</text>
<text class="a w" transform="translate(851.24,894.60) scale(1,1.04)">0.2</text>
<text class="a d" transform="translate(948.90,894.60) scale(1,1.04)">1</text>
<text class="a d" transform="translate(1046.56,894.60) scale(1,1.04)">0.56</text>
<text class="a d" transform="translate(1144.22,894.60) scale(1,1.04)">0.53</text>
<text class="a w" transform="translate(1241.88,894.60) scale(1,1.04)">0.38</text>
<text class="a d" transform="translate(1339.54,894.60) scale(1,1.04)">0.71</text>
<text class="a d" transform="translate(1437.19,894.60) scale(1,1.04)">0.6</text>
<text class="a d" transform="translate(1534.85,894.60) scale(1,1.04)">0.68</text>
<text class="a w" transform="translate(1632.51,894.60) scale(1,1.04)">0.27</text>
<text class="a d" transform="translate(1730.17,894.60) scale(1,1.04)">0.46</text>
<text class="a d" transform="translate(167.63,992.19) scale(1,1.04)">0.67</text>
<text class="a d" transform="translate(265.29,992.19) scale(1,1.04)">0.59</text>
<text class="a w" transform="translate(362.95,992.19) scale(1,1.04)">0.35</text>
<text class="a w" transform="translate(460.61,992.19) scale(1,1.04)">0.012</text>
<text class="a d" transform="translate(558.26,992.19) scale(1,1.04)">0.6</text>
<text class="a w" transform="translate(655.92,992.19) scale(1,1.04)">0.15</text>
<text class="a w" transform="translate(753.58,992.19) scale(1,1.04)">0.096</text>
<text class="a w" transform="translate(851.24,992.19) scale(1,1.04)">0.2</text>
<text class="a d" transform="translate(948.90,992.19) scale(1,1.04)">0.56</text>
<text class="a d" transform="translate(1046.56,992.19) scale(1,1.04)">1</text>
<text class="a w" transform="translate(1144.22,992.19) scale(1,1.04)">0.41</text>
<text class="a d" transform="translate(1241.88,992.19) scale(1,1.04)">0.5</text>
<text class="a d" transform="translate(1339.54,992.19) scale(1,1.04)">0.62</text>
<text class="a d" transform="translate(1437.19,992.19) scale(1,1.04)">0.52</text>
<text class="a d" transform="translate(1534.85,992.19) scale(1,1.04)">0.55</text>
<text class="a w" transform="translate(1632.51,992.19) scale(1,1.04)">0.18</text>
<text class="a d" transform="translate(1730.17,992.19) scale(1,1.04)">0.49</text>
<text class="a d" transform="translate(167.63,1089.78) scale(1,1.04)">0.63</text>
<text class="a w" transform="translate(265.29,1089.78) scale(1,1.04)">0.41</text>
<text class="a w" transform="translate(362.95,1089.78) scale(1,1.04)">0.32</text>
<text class="a w" transform="translate(460.61,1089.78) scale(1,1.04)">0.0095</text>
<text class="a d" transform="translate(558.26,1089.78) scale(1,1.04)">0.65</text>
<text class="a w" transform="translate(655.92,1089.78) scale(1,1.04)">0.1</text>
<text class="a w" transform="translate(753.58,1089.78) scale(1,1.04)">0.085</text>
<text class="a w" transform="translate(851.24,1089.78) scale(1,1.04)">0.22</text>
<text class="a d" transform="translate(948.90,1089.78) scale(1,1.04)">0.53</text>
<text class="a w" transform="translate(1046.56,1089.78) scale(1,1.04)">0.41</text>
<text class="a d" transform="translate(1144.22,1089.78) scale(1,1.04)">1</text>
<text class="a w" transform="translate(1241.88,1089.78) scale(1,1.04)">0.26</text>
<text class="a d" transform="translate(1339.54,1089.78) scale(1,1.04)">0.61</text>
<text class="a w" transform="translate(1437.19,1089.78) scale(1,1.04)">0.31</text>
<text class="a d" transform="translate(1534.85,1089.78) scale(1,1.04)">0.64</text>
<text class="a w" transform="translate(1632.51,1089.78) scale(1,1.04)">0.17</text>
<text class="a w" transform="translate(1730.17,1089.78) scale(1,1.04)">0.38</text>
<text class="a w" transform="translate(167.63,1187.36) scale(1,1.04)">0.38</text>
<text class="a w" transform="translate(265.29,1187.36) scale(1,1.04)">0.31</text>
<text class="a w" transform="translate(362.95,1187.36) scale(1,1.04)">0.17</text>
<text class="a w" transform="translate(460.61,1187.36) scale(1,1.04)">0.02</text>
<text class="a w" transform="translate(558.26,1187.36) scale(1,1.04)">0.37</text>
<text class="a w" transform="translate(655.92,1187.36) scale(1,1.04)">0.077</text>
<text class="a w" transform="translate(753.58,1187.36) scale(1,1.04)">0.086</text>
<text class="a w" transform="translate(851.24,1187.36) scale(1,1.04)">0.23</text>
<text class="a w" transform="translate(948.90,1187.36) scale(1,1.04)">0.38</text>
<text class="a d" transform="translate(1046.56,1187.36) scale(1,1.04)">0.5</text>
<text class="a w" transform="translate(1144.22,1187.36) scale(1,1.04)">0.26</text>
<text class="a d" transform="translate(1241.88,1187.36) scale(1,1.04)">1</text>
<text class="a w" transform="translate(1339.54,1187.36) scale(1,1.04)">0.3</text>
<text class="a w" transform="translate(1437.19,1187.36) scale(1,1.04)">0.29</text>
<text class="a w" transform="translate(1534.85,1187.36) scale(1,1.04)">0.31</text>
<text class="a w" transform="translate(1632.51,1187.36) scale(1,1.04)">-0.038</text>
<text class="a w" transform="translate(1730.17,1187.36) scale(1,1.04)">0.25</text>
<text class="a d" transform="translate(167.63,1284.95) scale(1,1.04)">0.88</text>
<text class="a d" transform="translate(265.29,1284.95) scale(1,1.04)">0.64</text>
<text class="a w" transform="translate(362.95,1284.95) scale(1,1.04)">0.44</text>
<text class="a w" transform="translate(460.61,1284.95) scale(1,1.04)">0.076</text>
<text class="a d" transform="translate(558.26,1284.95) scale(1,1.04)">0.8</text>
<text class="a w" transform="translate(655.92,1284.95) scale(1,1.04)">0.23</text>
<text class="a w" transform="translate(753.58,1284.95) scale(1,1.04)">0.17</text>
<text class="a w" transform="translate(851.24,1284.95) scale(1,1.04)">0.16</text>
<text class="a d" transform="translate(948.90,1284.95) scale(1,1.04)">0.71</text>
<text class="a d" transform="translate(1046.56,1284.95) scale(1,1.04)">0.62</text>
<text class="a d" transform="translate(1144.22,1284.95) scale(1,1.04)">0.61</text>
<text class="a w" transform="translate(1241.88,1284.95) scale(1,1.04)">0.3</text>
<text class="a d" transform="translate(1339.54,1284.95) scale(1,1.04)">1</text>
<text class="a d" transform="translate(1437.19,1284.95) scale(1,1.04)">0.65</text>
<text class="a d" transform="translate(1534.85,1284.95) scale(1,1.04)">0.74</text>
<text class="a w" transform="translate(1632.51,1284.95) scale(1,1.04)">0.28</text>
<text class="a d" transform="translate(1730.17,1284.95) scale(1,1.04)">0.57</text>
<text class="a d" transform="translate(167.63,1382.54) scale(1,1.04)">0.64</text>
<text class="a d" transform="translate(265.29,1382.54) scale(1,1.04)">0.62</text>
<text class="a w" transform="translate(362.95,1382.54) scale(1,1.04)">0.36</text>
<text class="a w" transform="translate(460.61,1382.54) scale(1,1.04)">-0.0057</text>
<text class="a d" transform="translate(558.26,1382.54) scale(1,1.04)">0.52</text>
<text class="a w" transform="translate(655.92,1382.54) scale(1,1.04)">0.18</text>
<text class="a w" transform="translate(753.58,1382.54) scale(1,1.04)">0.062</text>
<text class="a w" transform="translate(851.24,1382.54) scale(1,1.04)">-0.023</text>
<text class="a d" transform="translate(948.90,1382.54) scale(1,1.04)">0.6</text>
<text class="a d" transform="translate(1046.56,1382.54) scale(1,1.04)">0.52</text>
<text class="a w" transform="translate(1144.22,1382.54) scale(1,1.04)">0.31</text>
<text class="a w" transform="translate(1241.88,1382.54) scale(1,1.04)">0.29</text>
<text class="a d" transform="translate(1339.54,1382.54) scale(1,1.04)">0.65</text>
<text class="a d" transform="translate(1437.19,1382.54) scale(1,1.04)">1</text>
<text class="a d" transform="translate(1534.85,1382.54) scale(1,1.04)">0.46</text>
<text class="a w" transform="translate(1632.51,1382.54) scale(1,1.04)">0.23</text>
<text class="a w" transform="translate(1730.17,1382.54) scale(1,1.04)">0.41</text>
<text class="a d" transform="translate(167.63,1480.13) scale(1,1.04)">0.88</text>
<text class="a d" transform="translate(265.29,1480.13) scale(1,1.04)">0.53</text>
<text class="a w" transform="translate(362.95,1480.13) scale(1,1.04)">0.33</text>
<text class="a w" transform="translate(460.61,1480.13) scale(1,1.04)">-0.05</text>
<text class="a d" transform="translate(558.26,1480.13) scale(1,1.04)">0.87</text>
<text class="a w" transform="translate(655.92,1480.13) scale(1,1.04)">0.2</text>
<text class="a w" transform="translate(753.58,1480.13) scale(1,1.04)">0.028</text>
<text class="a w" transform="translate(851.24,1480.13) scale(1,1.04)">0.11</text>
<text class="a d" transform="translate(948.90,1480.13) scale(1,1.04)">0.68</text>
<text class="a d" transform="translate(1046.56,1480.13) scale(1,1.04)">0.55</text>
<text class="a d" transform="translate(1144.22,1480.13) scale(1,1.04)">0.64</text>
<text class="a w" transform="translate(1241.88,1480.13) scale(1,1.04)">0.31</text>
<text class="a d" transform="translate(1339.54,1480.13) scale(1,1.04)">0.74</text>
<text class="a d" transform="translate(1437.19,1480.13) scale(1,1.04)">0.46</text>
<text class="a d" transform="translate(1534.85,1480.13) scale(1,1.04)">1</text>
<text class="a w" transform="translate(1632.51,1480.13) scale(1,1.04)">0.24</text>
<text class="a d" transform="translate(1730.17,1480.13) scale(1,1.04)">0.53</text>
<text class="a w" transform="translate(167.63,1577.72) scale(1,1.04)">0.27</text>
<text class="a w" transform="translate(265.29,1577.72) scale(1,1.04)">0.23</text>
<text class="a w" transform="translate(362.95,1577.72) scale(1,1.04)">0.15</text>
<text class="a w" transform="translate(460.61,1577.72) scale(1,1.04)">0.011</text>
<text class="a w" transform="translate(558.26,1577.72) scale(1,1.04)">0.24</text>
<text class="a w" transform="translate(655.92,1577.72) scale(1,1.04)">0.1</text>
<text class="a w" transform="translate(753.58,1577.72) scale(1,1.04)">0.17</text>
<text class="a w" transform="translate(851.24,1577.72) scale(1,1.04)">-0.03</text>
<text class="a w" transform="translate(948.90,1577.72) scale(1,1.04)">0.27</text>
<text class="a w" transform="translate(1046.56,1577.72) scale(1,1.04)">0.18</text>
<text class="a w" transform="translate(1144.22,1577.72) scale(1,1.04)">0.17</text>
<text class="a w" transform="translate(1241.88,1577.72) scale(1,1.04)">-0.038</text>
<text class="a w" transform="translate(1339.54,1577.72) scale(1,1.04)">0.28</text>
<text class="a w" transform="translate(1437.19,1577.72) scale(1,1.04)">0.23</text>
<text class="a w" transform="translate(1534.85,1577.72) scale(1,1.04)">0.24</text>
<text class="a d" transform="translate(1632.51,1577.72) scale(1,1.04)">1</text>
<text class="a w" transform="translate(1730.17,1577.72) scale(1,1.04)">0.19</text>
<text class="a d" transform="translate(167.63,1675.31) scale(1,1.04)">0.63</text>
<text class="a d" transform="translate(265.29,1675.31) scale(1,1.04)">0.52</text>
<text class="a w" transform="translate(362.95,1675.31) scale(1,1.04)">0.26</text>
<text class="a w" transform="translate(460.61,1675.31) scale(1,1.04)">0.039</text>
<text class="a d" transform="translate(558.26,1675.31) scale(1,1.04)">0.59</text>
<text class="a w" transform="translate(655.92,1675.31) scale(1,1.04)">0.13</text>
<text class="a w" transform="translate(753.58,1675.31) scale(1,1.04)">0.092</text>
<text class="a w" transform="translate(851.24,1675.31) scale(1,1.04)">0.13</text>
<text class="a d" transform="translate(948.90,1675.31) scale(1,1.04)">0.46</text>
<text class="a d" transform="translate(1046.56,1675.31) scale(1,1.04)">0.49</text>
<text class="a w" transform="translate(1144.22,1675.31) scale(1,1.04)">0.38</text>
<text class="a w" transform="translate(1241.88,1675.31) scale(1,1.04)">0.25</text>
<text class="a d" transform="translate(1339.54,1675.31) scale(1,1.04)">0.57</text>
<text class="a w" transform="translate(1437.19,1675.31) scale(1,1.04)">0.41</text>
<text class="a d" transform="translate(1534.85,1675.31) scale(1,1.04)">0.53</text>
<text class="a w" transform="translate(1632.51,1675.31) scale(1,1.04)">0.19</text>
<text class="a d" transform="translate(1730.17,1675.31) scale(1,1.04)">1</text>
</g>
<text class="ttl" x="949.5" y="48.8">Correlation Coefficient Matrix (S)</text>
<text class="t yt" transform="translate(108.1,114.89) scale(1,1.03)">SM</text>
<text class="t yt" transform="translate(108.1,212.48) scale(1,1.03)">prn01</text>
<text class="t yt" transform="translate(108.1,310.07) scale(1,1.03)">prn03</text>
<text class="t yt" transform="translate(108.1,407.66) scale(1,1.03)">prn04</text>
<text class="t yt" transform="translate(108.1,505.25) scale(1,1.03)">prn07</text>
<text class="t yt" transform="translate(108.1,602.84) scale(1,1.03)">prn09</text>
<text class="t yt" transform="translate(108.1,700.42) scale(1,1.03)">prn11</text>
<text class="t yt" transform="translate(108.1,798.01) scale(1,1.03)">prn13</text>
<text class="t yt" transform="translate(108.1,895.60) scale(1,1.03)">prn14</text>
<text class="t yt" transform="translate(108.1,993.19) scale(1,1.03)">prn16</text>
<text class="t yt" transform="translate(108.1,1090.78) scale(1,1.03)">prn19</text>
<text class="t yt" transform="translate(108.1,1188.36) scale(1,1.03)">prn22</text>
<text class="t yt" transform="translate(108.1,1285.95) scale(1,1.03)">prn23</text>
<text class="t yt" transform="translate(108.1,1383.54) scale(1,1.03)">prn24</text>
<text class="t yt" transform="translate(108.1,1481.13) scale(1,1.03)">prn30</text>
<text class="t yt" transform="translate(108.1,1578.72) scale(1,1.03)">prn31</text>
<text class="t yt" transform="translate(108.1,1676.31) scale(1,1.03)">prn32</text>
<text class="t xt" transform="translate(179.43,1728) rotate(-90) scale(1,1.03)">SM</text>
<text class="t xt" transform="translate(277.09,1728) rotate(-90) scale(1,1.03)">prn01</text>
<text class="t xt" transform="translate(374.75,1728) rotate(-90) scale(1,1.03)">prn03</text>
<text class="t xt" transform="translate(472.41,1728) rotate(-90) scale(1,1.03)">prn04</text>
<text class="t xt" transform="translate(570.06,1728) rotate(-90) scale(1,1.03)">prn07</text>
<text class="t xt" transform="translate(667.72,1728) rotate(-90) scale(1,1.03)">prn09</text>
<text class="t xt" transform="translate(765.38,1728) rotate(-90) scale(1,1.03)">prn11</text>
<text class="t xt" transform="translate(863.04,1728) rotate(-90) scale(1,1.03)">prn13</text>
<text class="t xt" transform="translate(960.70,1728) rotate(-90) scale(1,1.03)">prn14</text>
<text class="t xt" transform="translate(1058.36,1728) rotate(-90) scale(1,1.03)">prn16</text>
<text class="t xt" transform="translate(1156.02,1728) rotate(-90) scale(1,1.03)">prn19</text>
<text class="t xt" transform="translate(1253.68,1728) rotate(-90) scale(1,1.03)">prn22</text>
<text class="t xt" transform="translate(1351.34,1728) rotate(-90) scale(1,1.03)">prn23</text>
<text class="t xt" transform="translate(1448.99,1728) rotate(-90) scale(1,1.03)">prn24</text>
<text class="t xt" transform="translate(1546.65,1728) rotate(-90) scale(1,1.03)">prn30</text>
<text class="t xt" transform="translate(1644.31,1728) rotate(-90) scale(1,1.03)">prn31</text>
<text class="t xt" transform="translate(1741.97,1728) rotate(-90) scale(1,1.03)">prn32</text>
<rect x="1882.3" y="77.5" width="80.7" height="1616.2" fill="url(#cbg)"/>
<rect x="1882.3" y="1691.5" width="80.7" height="2.2" fill="#00b096"/>
<rect x="1963" y="1615.64" width="8" height="2.2" fill="#4a4a4a"/>
<text class="t" transform="translate(1974.3,1630.94) scale(1,1.04)">0.0</text>
<rect x="1963" y="1307.79" width="8" height="2.2" fill="#4a4a4a"/>
<text class="t" transform="translate(1974.3,1323.09) scale(1,1.04)">0.2</text>
<rect x="1963" y="999.94" width="8" height="2.2" fill="#4a4a4a"/>
<text class="t" transform="translate(1974.3,1015.24) scale(1,1.04)">0.4</text>
<rect x="1963" y="692.10" width="8" height="2.2" fill="#4a4a4a"/>
<text class="t" transform="translate(1974.3,707.40) scale(1,1.04)">0.6</text>
<rect x="1963" y="384.25" width="8" height="2.2" fill="#4a4a4a"/>
<text class="t" transform="translate(1974.3,399.55) scale(1,1.04)">0.8</text>
<rect x="1963" y="76.40" width="8" height="2.2" fill="#4a4a4a"/>
<text class="t" transform="translate(1974.3,91.70) scale(1,1.04)">1.0</text>
</g>
</svg>
</body>
</html>
